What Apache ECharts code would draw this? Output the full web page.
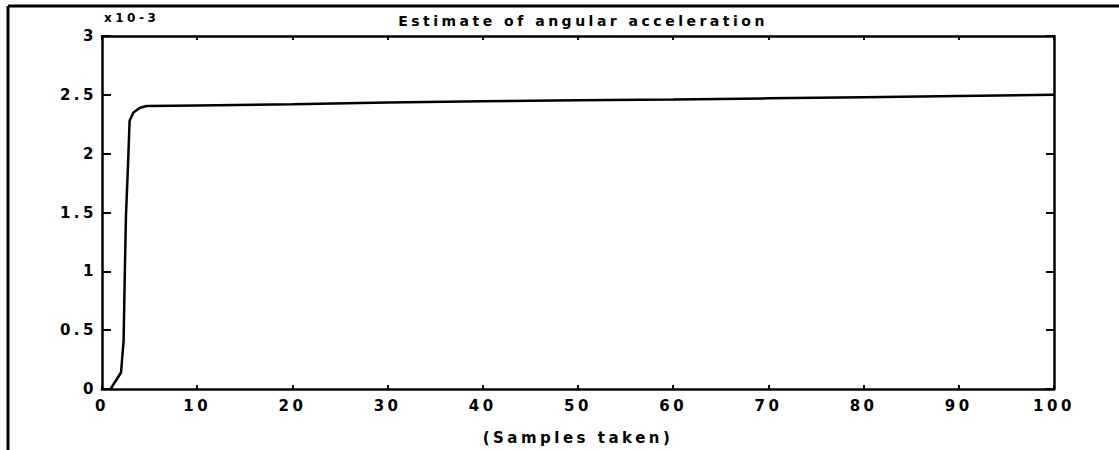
<!DOCTYPE html>
<html>
<head>
<meta charset="utf-8">
<script src="https://cdn.jsdelivr.net/npm/echarts@6/dist/echarts.min.js"></script>
<style>html,body{margin:0;padding:0;background:#fff;}#c{width:1119px;height:450px;}#c text{letter-spacing:3.5px;}</style>
</head>
<body>
<div id="c"></div>
<script>
var titleText = 'Estimate of angular acceleration';
var xLabel = '(Samples taken)';
var yExponent = 'x10-3';
var sampleX = [0.9, 2.0, 2.27, 2.38, 2.52, 2.73, 2.9, 3.3, 4.0, 4.7, 10, 20, 30, 40, 50, 60, 70, 80, 90, 100];
var estimate = [0, 0.14, 0.41, 0.92, 1.48, 1.90, 2.28, 2.35, 2.39, 2.405, 2.41, 2.42, 2.435, 2.445, 2.455, 2.46, 2.47, 2.48, 2.49, 2.50];
var yTicks = ['0', '0.5', '1', '1.5', '2', '2.5', '3'];

var pts = sampleX.map(function (x, i) { return [x, estimate[i]]; });
var fontFam = 'DejaVu Sans';
var labelStyle = { color: '#000', fontFamily: fontFam, fontWeight: 'bold', fontSize: 15 };

var chart = echarts.init(document.getElementById('c'), null, { renderer: 'svg' });
chart.setOption({
  animation: false,
  backgroundColor: '#fff',
  title: {
    text: titleText, left: 578, top: 9, textAlign: 'center',
    textStyle: { color: '#000', fontFamily: fontFam, fontWeight: 'bold', fontSize: 14 }
  },
  grid: { left: 102, right: 65, top: 36, bottom: 58 },
  xAxis: [{
    type: 'value', min: 0, max: 100, interval: 10,
    name: xLabel, nameLocation: 'middle', nameGap: 41,
    nameTextStyle: { color: '#000', fontFamily: fontFam, fontWeight: 'bold', fontSize: 15 },
    axisLine: { show: true, onZero: false, lineStyle: { color: '#000', width: 2.5 } },
    axisTick: { show: true, inside: true, length: 4, lineStyle: { color: '#000', width: 2 } },
    axisLabel: Object.assign({ margin: 9 }, labelStyle),
    splitLine: { show: false }
  }, {
    type: 'value', position: 'top', min: 0, max: 100, interval: 10,
    axisLine: { show: true, onZero: false, lineStyle: { color: '#000', width: 2.5 } },
    axisTick: { show: true, inside: true, length: 4, lineStyle: { color: '#000', width: 2 } },
    axisLabel: { show: false }, splitLine: { show: false }
  }],
  yAxis: [{
    type: 'value', min: 0, max: 3, interval: 0.5,
    name: yExponent, nameLocation: 'end', nameGap: 12,
    nameTextStyle: { color: '#000', fontFamily: fontFam, fontWeight: 'bold', fontSize: 12, align: 'left', padding: [0, 0, 0, 2] },
    axisLine: { show: true, onZero: false, lineStyle: { color: '#000', width: 2.5 } },
    axisTick: { show: true, inside: true, length: 9, lineStyle: { color: '#000', width: 2 } },
    axisLabel: Object.assign({ margin: 5, formatter: function (v, i) { return yTicks[i]; } }, labelStyle),
    splitLine: { show: false }
  }, {
    type: 'value', position: 'right', min: 0, max: 3, interval: 0.5,
    axisLine: { show: true, onZero: false, lineStyle: { color: '#000', width: 2.5 } },
    axisTick: { show: true, inside: true, length: 8, lineStyle: { color: '#000', width: 2 } },
    axisLabel: { show: false }, splitLine: { show: false }
  }],
  graphic: [
    { type: 'line', shape: { x1: 8, y1: 6, x2: 1119, y2: 6 }, style: { stroke: '#000', lineWidth: 3 } },
    { type: 'line', shape: { x1: 8, y1: 6, x2: 8, y2: 450 }, style: { stroke: '#000', lineWidth: 3 } }
  ],
  series: [{
    type: 'line', data: pts, xAxisIndex: 0, yAxisIndex: 0,
    showSymbol: false, smooth: false,
    lineStyle: { color: '#000', width: 2.5 }
  }]
});
</script>
</body>
</html>
